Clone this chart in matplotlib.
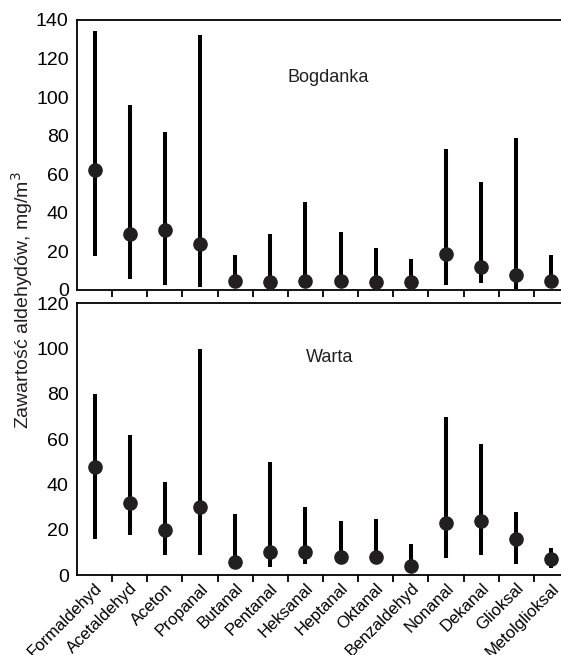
import numpy as np
import matplotlib
matplotlib.use('Agg')
import matplotlib.pyplot as plt

plt.rcParams['font.family'] = ['Liberation Sans', 'DejaVu Sans']

compounds = ['Formaldehyd', 'Acetaldehyd', 'Aceton', 'Propanal', 'Butanal',
             'Pentanal', 'Heksanal', 'Heptanal', 'Oktanal', 'Benzaldehyd',
             'Nonanal', 'Dekanal', 'Glioksal', 'Metolglioksal']

# Bogdanka: min, max, mean
bog_min = [17.6, 5.7, 2.6, 1.7, 3.0, 3.0, 3.0, 3.0, 2.5, 2.5, 2.6, 3.8, 0.7, 1.2]
bog_max = [134.3, 95.9, 81.9, 132.4, 18.1, 29.0, 45.6, 30.1, 21.8, 16.1, 73.1, 56.0, 78.8, 18.1]
bog_mean = [62.0, 28.9, 30.9, 23.7, 4.8, 4.0, 4.8, 4.8, 4.0, 4.0, 18.8, 11.8, 7.8, 4.8]

# Warta: min, max, mean
war_min = [16.0, 17.7, 8.8, 8.8, 4.0, 3.7, 4.9, 5.0, 5.0, 3.0, 7.7, 8.8, 4.9, 2.9]
war_max = [79.9, 61.8, 41.1, 99.7, 26.9, 49.9, 30.0, 23.8, 24.7, 13.7, 69.7, 57.8, 27.8, 12.0]
war_mean = [47.8, 31.7, 19.9, 30.0, 5.6, 10.0, 10.0, 8.1, 8.1, 4.0, 22.8, 23.8, 15.9, 6.9]

W, H = 561, 655
fig = plt.figure(figsize=(W / 100, H / 100), dpi=100)

left = 77 / W
width = 492 / W
ax1 = fig.add_axes([left, (H - 290) / H, width, 270 / H])
ax2 = fig.add_axes([left, (H - 575) / H, width, 272 / H])

x = np.arange(len(compounds))


def draw_panel(ax, lo, hi, mean, ymax, name, tx, ty):
    ax.vlines(x, lo, hi, color='black', linewidth=2.9, zorder=2)
    ax.plot(x, mean, 'o', color='#231f20', markersize=9.5, zorder=3)
    ax.set_xlim(-0.5, len(compounds) - 0.5)
    ax.set_ylim(0, ymax)
    ax.set_yticks(np.arange(0, ymax + 1, 20))
    ax.tick_params(axis='y', length=0, pad=6, labelsize=14)
    ax.set_xticks(x)
    ax.set_xticks(x[:-1] + 0.5, minor=True)
    ax.tick_params(axis='x', which='major', length=0)
    ax.tick_params(axis='x', which='minor', direction='out', length=5, width=1.3)
    for s in ax.spines.values():
        s.set_linewidth(1.3)
    ax.text(tx, ty, name, fontsize=13, color='#231f20', transform=ax.transData)


draw_panel(ax1, bog_min, bog_max, bog_mean, 140, 'Bogdanka', 5.5, 108)
ax1.set_xticklabels([])

draw_panel(ax2, war_min, war_max, war_mean, 120, 'Warta', 6.0, 94)
ax2.set_xticklabels(compounds, rotation=45, ha='right', rotation_mode='anchor',
                    fontsize=12)
ax2.tick_params(axis='x', which='major', pad=4)

fig.text(22 / W, (H - 300) / H, 'Zawartość aldehydów, mg/m$^3$', rotation=90,
         ha='center', va='center', fontsize=14, color='#231f20')

fig.savefig('out.png', dpi=100)
